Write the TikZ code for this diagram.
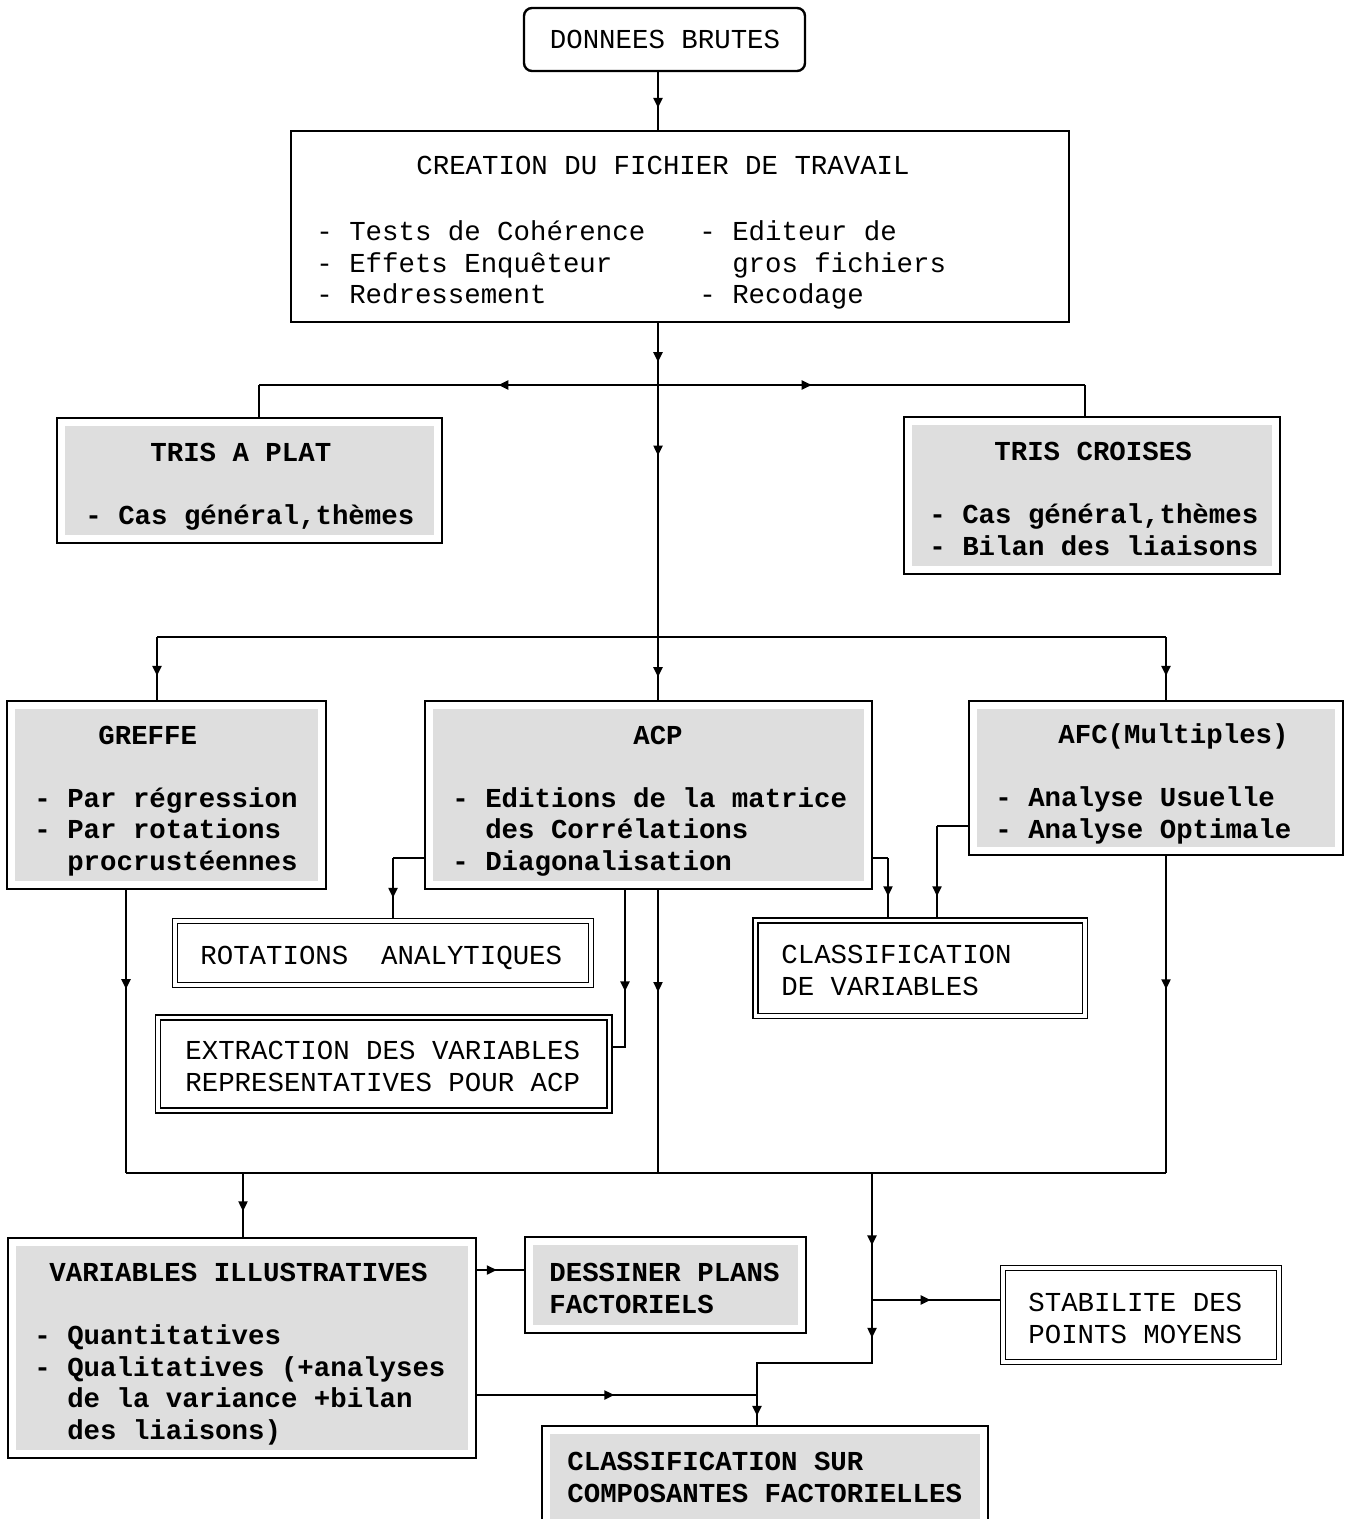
\documentclass[tikz,border=0pt]{standalone}
\usepackage{fontspec}
\setmonofont{Liberation Mono}
\newfontfamily\plainfont{Liberation Mono}
\newfontfamily\heavyfont{Liberation Mono Bold}
\usetikzlibrary{fit,backgrounds,arrows.meta,decorations.markings}
\definecolor{halftone}{gray}{0.87}
\begin{document}
\begin{tikzpicture}[x=0.5pt,y=-0.5pt,
  every node/.style={inner sep=0pt},
  frame/.style={draw, line width=1.2pt, inner sep=0pt, fill=white},
  roundbox/.style={frame, rounded corners=4pt},
  shadebox/.style={frame, path picture={\fill[halftone]
      ([shift={(4pt,-4pt)}]path picture bounding box.north west) rectangle
      ([shift={(-4pt,4pt)}]path picture bounding box.south east);}},
  dblbox/.style={draw, line width=0.8pt, double, double distance=1.6pt, inner sep=0pt},
  % multi-line texts are anchored on the baseline of their last line
  txt/.style={anchor=base west, align=left, font=\plainfont\fontsize{13.7pt}{15.9pt}\selectfont},
  btxt/.style={anchor=base west, align=left, font=\heavyfont\fontsize{13.7pt}{15.7pt}\selectfont},
  link/.style={line width=1.1pt},
  arr/.style={postaction={decorate,decoration={markings,
      mark=at position #1 with {\arrow{Triangle[length=5pt,width=4.5pt]}}}}},
]
\useasboundingbox (0,0) rectangle (1351,1519);

% ---- boxes ----
\node[roundbox, fit={(524,8)(805,71)}] (donnees) {};
\node[frame, fit={(291,131)(1069,322)}] (crea) {};
\node[shadebox, fit={(57,418)(442,543)}] (plat) {};
\node[shadebox, fit={(904,417)(1280,574)}] (crois) {};
\node[shadebox, fit={(7,701)(326,889)}] (greffe) {};
\node[shadebox, fit={(425,701)(872,889)}] (acp) {};
\node[shadebox, fit={(969,701)(1343,855)}] (afc) {};
\node[dblbox, fit={(175,921)(591,985)}] (rot) {};
\node[dblbox, fit={(158,1017.5)(609.5,1110.5)}] (extr) {};
\node[dblbox, fit={(755.5,920.5)(1085,1016)}] (cdv) {};
\node[shadebox, fit={(8,1238)(476,1458)}] (varill) {};
\node[shadebox, fit={(525,1237)(806,1333)}] (dess) {};
\node[dblbox, fit={(1003,1268)(1279,1362)}] (stab) {};
\node[shadebox, fit={(542,1426)(988,1534)}] (cs) {};

% ---- texts ----
\node[txt, anchor=base] (tdonnees) at (665,49) {DONNEES BRUTES};
\node[txt] (tcrea) at (416,175) {CREATION DU FICHIER DE TRAVAIL};
\node[txt] (tcreaA) at (316,304) {- Tests de Cohérence\\- Effets Enquêteur\\- Redressement};
\node[txt] (tcreaB) at (699,304) {- Editeur de\\\phantom{- }gros fichiers\\- Recodage};
\node[btxt] (tplat) at (150,461) {TRIS A PLAT};
\node[btxt] (tplatA) at (85,524) {- Cas général,thèmes};
\node[btxt] (tcrois) at (994,460) {TRIS CROISES};
\node[btxt] (tcroisA) at (929,555) {- Cas général,thèmes\\- Bilan des liaisons};
\node[btxt] (tgreffe) at (98,744) {GREFFE};
\node[btxt] (tgreffeA) at (34,870) {- Par régression\\- Par rotations\\\phantom{- }procrustéennes};
\node[btxt, anchor=base] (tacp) at (658,744) {ACP};
\node[btxt] (tacpA) at (452,870) {- Editions de la matrice\\\phantom{- }des Corrélations\\- Diagonalisation};
\node[btxt] (tafc) at (1058,743) {AFC(Multiples)};
\node[btxt] (tafcA) at (995,838) {- Analyse Usuelle\\- Analyse Optimale};
\node[txt] (trot) at (200,964) {ROTATIONS~~ANALYTIQUES};
\node[txt] (textr) at (185,1091) {EXTRACTION DES VARIABLES\\REPRESENTATIVES POUR ACP};
\node[txt] (tcdv) at (781,995) {CLASSIFICATION\\DE VARIABLES};
\node[btxt] (tvarill) at (49,1281) {VARIABLES ILLUSTRATIVES};
\node[btxt] (tvarillA) at (34,1439) {- Quantitatives\\- Qualitatives (+analyses\\\phantom{- }de la variance +bilan\\\phantom{- }des liaisons)};
\node[btxt] (tdess) at (549,1313) {DESSINER PLANS\\FACTORIELS};
\node[txt] (tstab) at (1028,1343) {STABILITE DES\\POINTS MOYENS};
\node[btxt] (tcs) at (567,1502) {CLASSIFICATION SUR\\COMPOSANTES FACTORIELLES};

% ---- connectors ----
\coordinate (mx) at (658,0);
\coordinate (j1) at (658,385);
\coordinate (jl) at (259,385);
\coordinate (jr) at (1085,385);
\coordinate (j2) at (658,637);
\coordinate (j2l) at (157,637);
\coordinate (j2r) at (1166,637);
\coordinate (al) at (393,858);
\coordinate (ab) at (625,1047);
\coordinate (ar) at (888,858);
\coordinate (fl) at (937,826);
\coordinate (b0) at (243,1173);
\coordinate (b1) at (126,1173);
\coordinate (b2) at (658,1173);
\coordinate (b3) at (872,1173);
\coordinate (b4) at (1166,1173);
\coordinate (js) at (872,1300);
\coordinate (jk) at (872,1363);
\coordinate (jc) at (757,1363);
\coordinate (jv) at (757,1395);
\coordinate (vd) at (477,1270);

\begin{pgfonlayer}{background}
\draw[link,arr=0.62] (donnees.south -| mx) -- (crea.north -| mx);
\draw[link,arr=0.63] (crea.south -| mx) -- (j1);
\draw[link,arr=0.40] (j1) -- (jl);
\draw[link] (jl) -- (plat.north -| jl);
\draw[link,arr=0.36] (j1) -- (jr);
\draw[link] (jr) -- (crois.north -| jr);
\draw[link,arr=0.28] (j1) -- (j2);
\draw[link] (j2l) -- (j2r);
\draw[link,arr=0.62] (j2l) -- (greffe.north -| j2l);
\draw[link,arr=0.64] (j2) -- (acp.north -| j2);
\draw[link,arr=0.62] (j2r) -- (afc.north -| j2r);
% ACP towards the secondary analyses
\draw[link] (acp.west |- al) -- (al);
\draw[link,arr=0.64] (al) -- (rot.north -| al);
\draw[link,arr=0.59] (acp.south -| ab) -- (ab) -- (extr.east |- ab);
\draw[link] (acp.east |- ar) -- (ar);
\draw[link,arr=0.62] (ar) -- (cdv.north -| ar);
\draw[link] (afc.west |- fl) -- (fl);
\draw[link,arr=0.75] (fl) -- (cdv.north -| fl);
% collecting bus
\draw[link,arr=0.35] (greffe.south -| b1) -- (b1);
\draw[link,arr=0.36] (acp.south -| b2) -- (b2);
\draw[link,arr=0.42] (afc.south -| b4) -- (b4);
\draw[link] (b1) -- (b4);
\draw[link,arr=0.6] (b0) -- (varill.north -| b0);
\draw[link,arr=0.57] (b3) -- (js);
\draw[link,arr=0.18] (js) -- (jk) -- (jc) -- (jv);
\draw[link,arr=0.7] (jv) -- (cs.north -| jv);
\draw[link,arr=0.45] (js) -- (stab.west |- js);
\draw[link,arr=0.42] (varill.east |- vd) -- (dess.west |- vd);
\draw[link,arr=0.49] (varill.east |- jv) -- (jv);
\end{pgfonlayer}
\end{tikzpicture}
\end{document}
